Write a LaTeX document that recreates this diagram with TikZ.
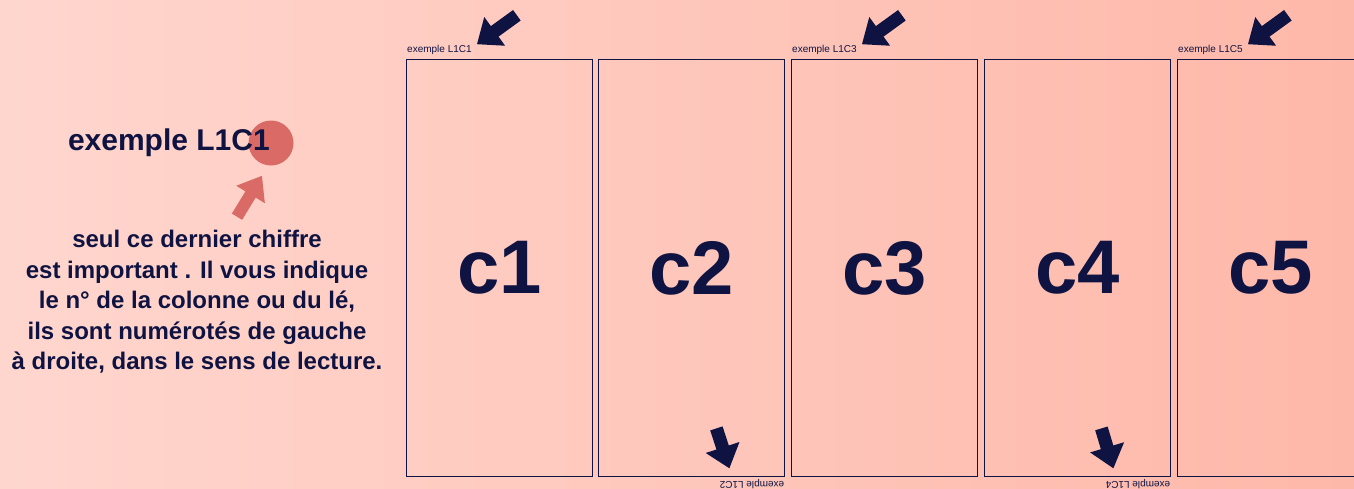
\documentclass[tikz,border=0pt]{standalone}
\usepackage{fontspec}
\setmainfont{Liberation Sans}
\usepackage{xcolor}
\usetikzlibrary{positioning, arrows.meta}

\definecolor{navy}{HTML}{0F1342}
\definecolor{pinkred}{HTML}{D96A65}
\definecolor{bgleft}{HTML}{FFD6CE}
\definecolor{bgright}{HTML}{FEB8A9}

\begin{document}
\begin{tikzpicture}[
    x=1pt, y=-1pt,
    col/.style={rectangle, draw=navy, line width=1.4pt, minimum width=186pt, minimum height=417pt, anchor=north west, inner sep=0pt, text=navy, font=\bfseries\fontsize{76}{76}\selectfont},
    tag/.style={text=navy, font=\fontsize{10}{11}\selectfont, inner sep=1pt},
    bigarrow/.style={-{Triangle[length=22pt, width=34pt]}, line width=13pt, navy},
    redarrow/.style={-{Triangle[length=22pt, width=32pt]}, line width=12pt, pinkred}
]

% Background
\useasboundingbox (0,0) rectangle (1354,488);
\shade[left color=bgleft, right color=bgright] (0,0) rectangle (1354,488);

% Columns
\node[col] (c1) at (406,59) {c1};
\node[col] (c2) at (598,59) {c2};
\node[col] (c3) at (791,59) {c3};
\node[col] (c4) at (984,59) {c4};
\node[col] (c5) at (1177,59) {c5};

% Labels on top
\node[tag, anchor=south west] (t1) at ([yshift=3pt]c1.north west) {exemple L1C1};
\node[tag, anchor=south west] (t3) at ([yshift=3pt]c3.north west) {exemple L1C3};
\node[tag, anchor=south west] (t5) at ([yshift=3pt]c5.north west) {exemple L1C5};

% Labels below, upside down
\node[tag, rotate=180, anchor=south west] (t2) at ([yshift=-1pt]c2.south east) {exemple L1C2};
\node[tag, rotate=180, anchor=south west] (t4) at ([yshift=-1pt]c4.south east) {exemple L1C4};

% Arrows
\draw[bigarrow] ([shift={(44,-29)}]t1.north east) -- ([shift={(4,0)}]t1.north east);
\draw[bigarrow] ([shift={(44,-29)}]t3.north east) -- ([shift={(4,0)}]t3.north east);
\draw[bigarrow] ([shift={(44,-29)}]t5.north east) -- ([shift={(4,0)}]t5.north east);
\coordinate (b2) at ([shift={(-56,-9)}]c2.south east);
\coordinate (b4) at ([shift={(-58,-9)}]c4.south east);
\draw[bigarrow] ([shift={(-13,-40)}]b2) -- (b2);
\draw[bigarrow] ([shift={(-12,-40)}]b4) -- (b4);

% Explanation
\node[circle, fill=pinkred, minimum size=45pt, inner sep=0pt] (pin) at (271,143) {};
\node[text=navy, font=\bfseries\fontsize{30}{32}\selectfont, anchor=east, inner sep=0pt] (title) at (270,143) {exemple L1C1};
\coordinate (tip) at ([shift={(-9,10)}]pin.south);
\draw[redarrow] ([shift={(-25,41)}]tip) -- (tip);
\node[text=navy, align=center, font=\bfseries\fontsize{24}{30.5}\selectfont] (note) at (197,302)
    {seul ce dernier chiffre\\est important . Il vous indique\\le n° de la colonne ou du lé,\\ils sont numérotés de gauche\\à droite, dans le sens de lecture.};

\end{tikzpicture}
\end{document}
